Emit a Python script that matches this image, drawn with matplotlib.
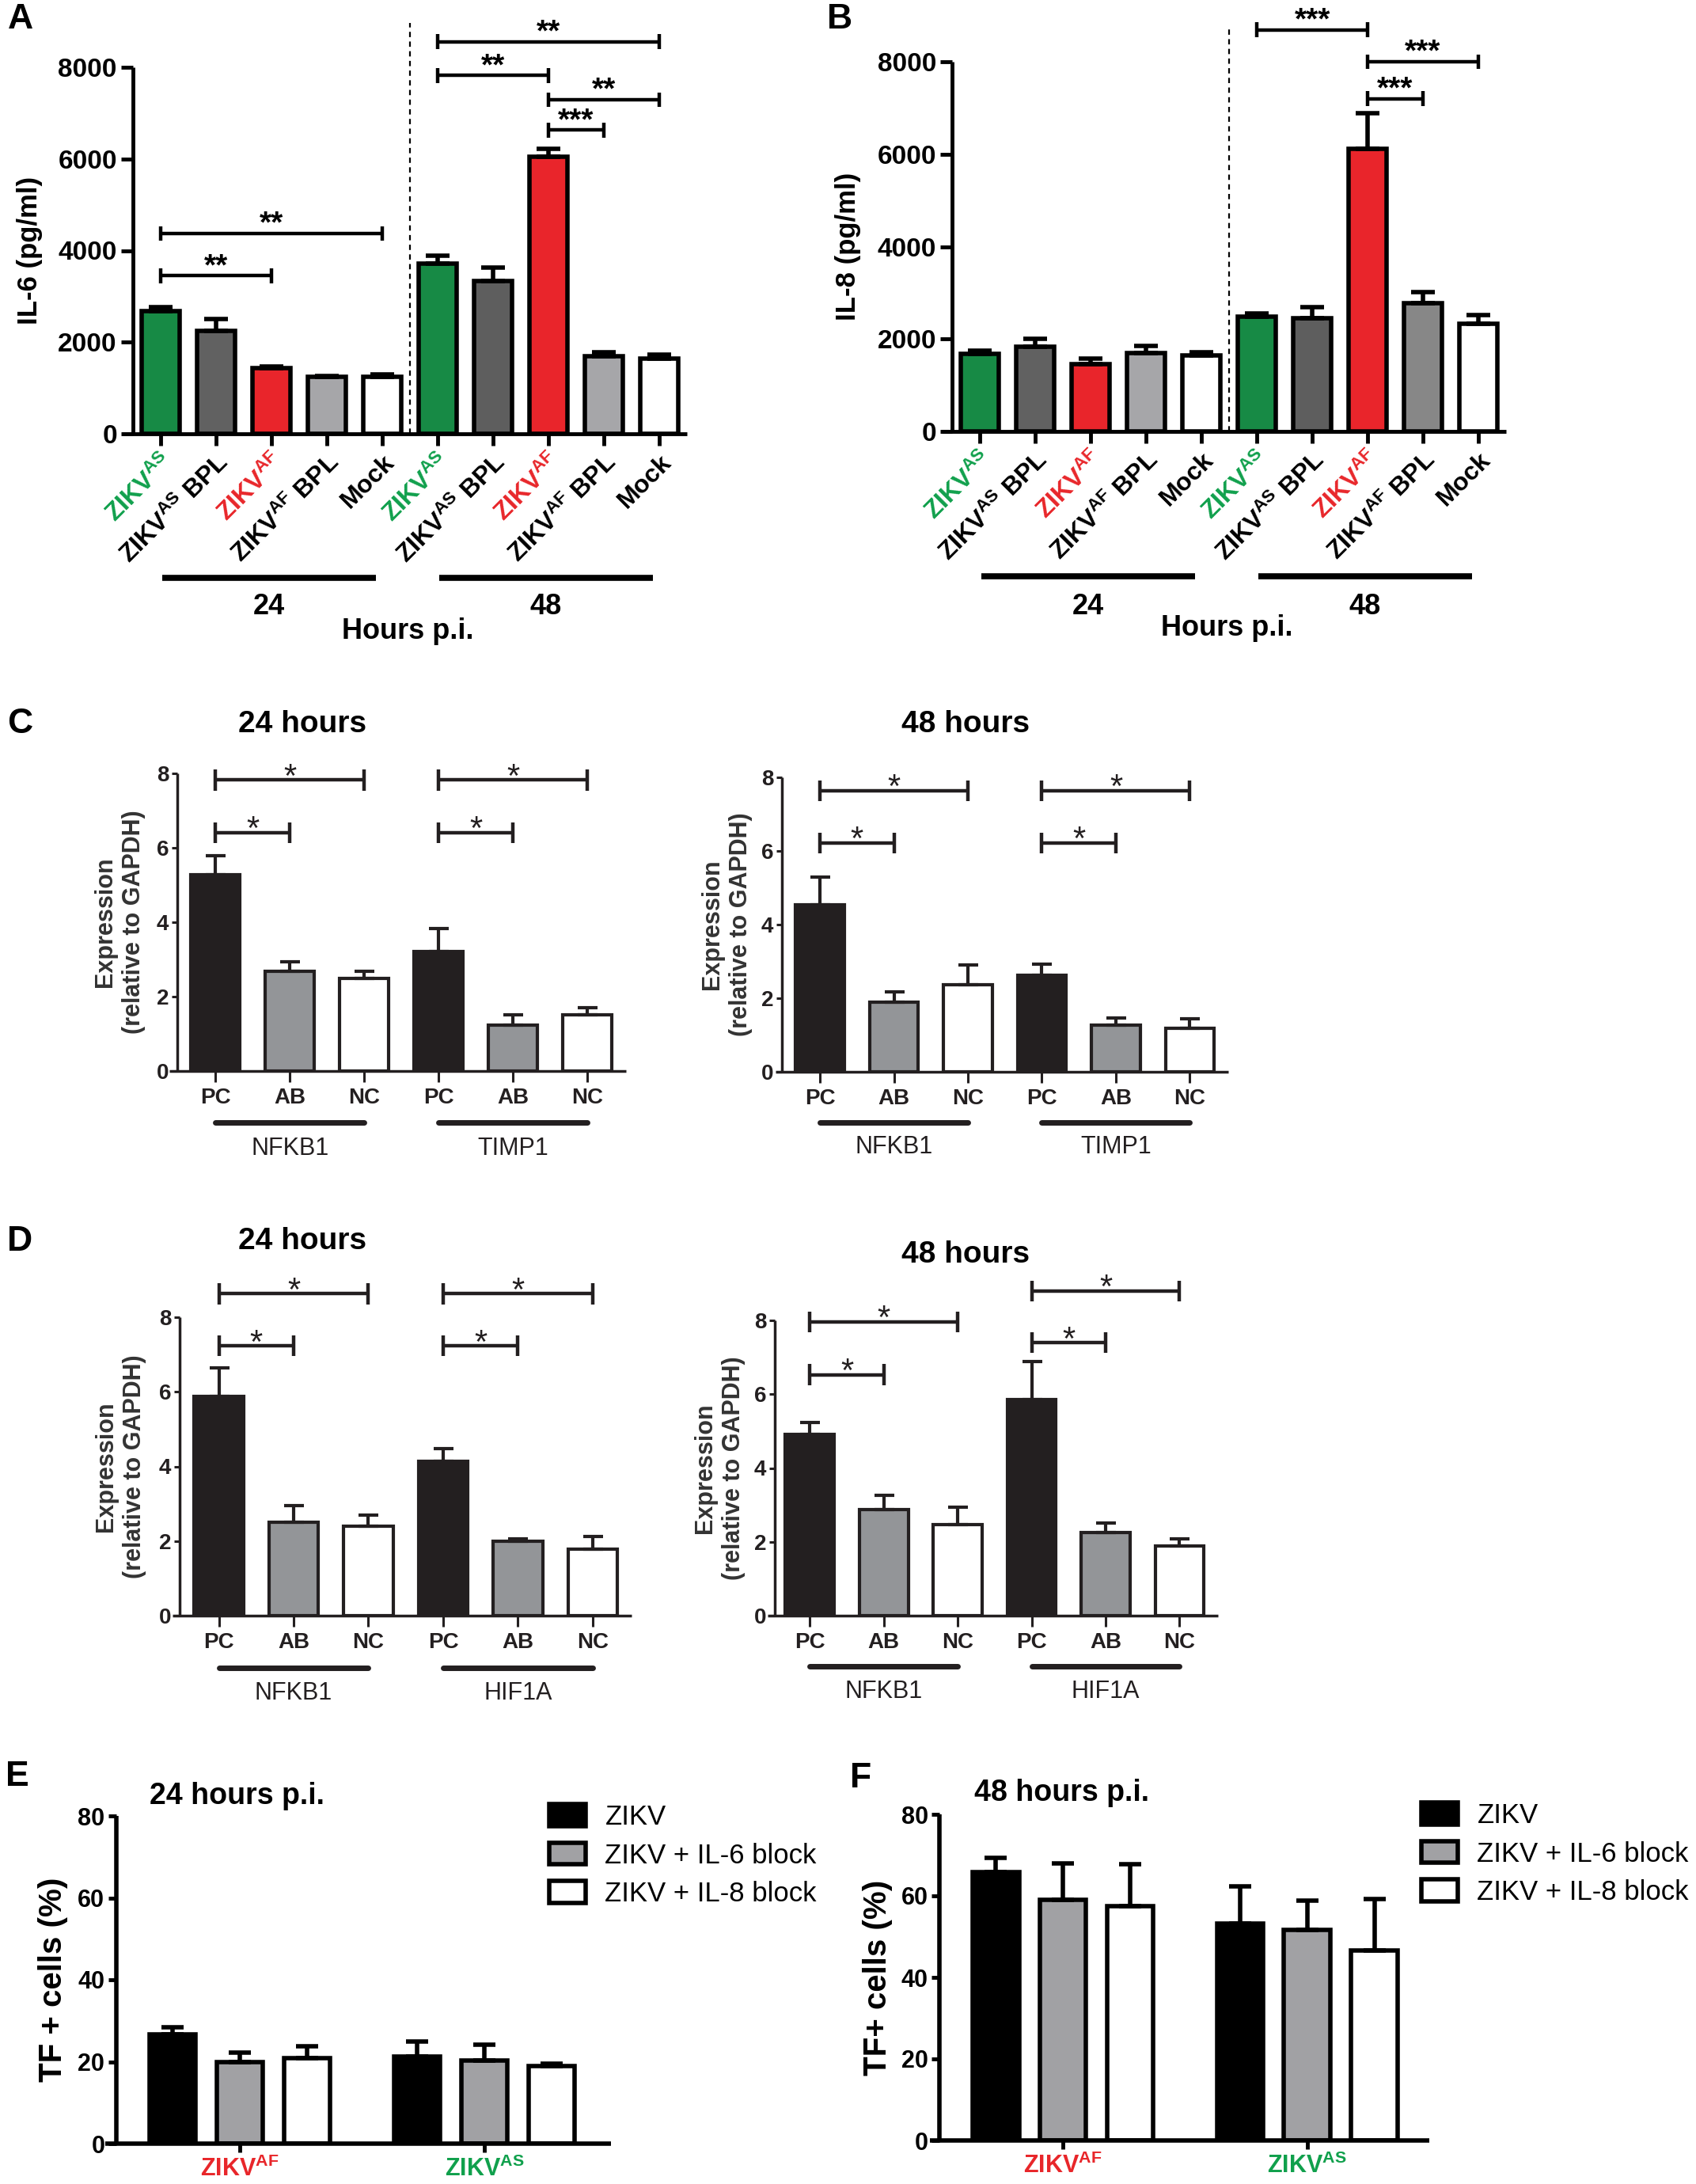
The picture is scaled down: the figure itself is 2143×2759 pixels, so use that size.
import numpy as np
import matplotlib
matplotlib.use("Agg")
import matplotlib.pyplot as plt
import matplotlib.transforms as mtransforms
from matplotlib.patches import Patch

plt.rcParams['font.family'] = ['Liberation Sans', 'DejaVu Sans']
plt.rcParams['mathtext.fontset'] = 'custom'
plt.rcParams['mathtext.rm'] = 'Liberation Sans'
plt.rcParams['mathtext.bf'] = 'Liberation Sans:bold'
plt.rcParams['mathtext.it'] = 'Liberation Sans:italic'

W, H = 2143, 2759

# ── colours ────────────────────────────────────────────────────────────────
GREEN = "#178a45"
RED = "#e9252b"
GREEN_T = "#10a04c"
RED_T = "#e8262a"
DARK = "#231f20"
QGREY = "#939598"

# ── data: panels A/B (cytokines, pg/ml) ────────────────────────────────────
cyto_labels = [r'ZIKV$^{\mathbf{AS}}$', r'ZIKV$^{\mathbf{AS}}$ BPL',
               r'ZIKV$^{\mathbf{AF}}$', r'ZIKV$^{\mathbf{AF}}$ BPL', 'Mock'] * 2
cyto_label_colors = [GREEN_T, 'k', RED_T, 'k', 'k'] * 2
hours = ['24', '48']

il6_mean = [2670, 2240, 1435, 1250, 1250, 3720, 3340, 6040, 1690, 1645]
il6_err = [90, 260, 35, 15, 40, 160, 290, 180, 90, 85]
il8_mean = [1680, 1830, 1450, 1700, 1650, 2480, 2450, 6110, 2770, 2330]
il8_err = [60, 180, 120, 150, 60, 80, 240, 780, 250, 190]

il6_colors = [GREEN, '#616161', RED, '#a6a6a9', 'white',
              GREEN, '#5e5e5e', RED, '#a6a6a9', 'white']
il8_colors = [GREEN, '#616161', RED, '#a6a6a9', 'white',
              GREEN, '#5e5e5e', RED, '#878787', 'white']

# (from bar, to bar, height, stars)
il6_sig = [(0, 2, 3450, '**'), (0, 4, 4370, '**'), (7, 8, 6630, '***'),
           (7, 9, 7290, '**'), (5, 7, 7820, '**'), (5, 9, 8560, '**')]
il8_sig = [(5, 7, 8690, '***'), (7, 9, 8000, '***'), (7, 8, 7200, '***')]

# ── data: panels C/D (expression relative to GAPDH) ────────────────────────
q_conditions = ['PC', 'AB', 'NC']

c24_genes = ['NFKB1', 'TIMP1']
c24_mean = [5.27, 2.69, 2.48, 3.22, 1.23, 1.52]
c24_err = [0.52, 0.25, 0.21, 0.60, 0.28, 0.18]
c48_mean = [4.54, 1.89, 2.36, 2.63, 1.26, 1.19]
c48_err = [0.75, 0.28, 0.55, 0.30, 0.21, 0.26]

d_genes = ['NFKB1', 'HIF1A']
d24_mean = [5.87, 2.51, 2.40, 4.14, 2.00, 1.79]
d24_err = [0.77, 0.45, 0.29, 0.34, 0.06, 0.33]
d48_mean = [4.92, 2.87, 2.46, 5.86, 2.26, 1.89]
d48_err = [0.32, 0.38, 0.48, 1.02, 0.24, 0.20]

c24_sig = [(0, 1, 6.40), (0, 2, 7.82), (3, 4, 6.40), (3, 5, 7.82)]
c48_sig = [(0, 1, 6.22), (0, 2, 7.64), (3, 4, 6.22), (3, 5, 7.64)]
d24_sig = [(0, 1, 7.23), (0, 2, 8.63), (3, 4, 7.23), (3, 5, 8.63)]
d48_sig = [(0, 1, 6.53), (0, 2, 7.96), (3, 4, 7.39), (3, 5, 8.80)]

# ── data: panels E/F (TF+ cells, %) ────────────────────────────────────────
tf_groups = [r'ZIKV$^{\mathbf{AF}}$', r'ZIKV$^{\mathbf{AS}}$']
tf_group_colors = [RED_T, GREEN_T]
tf_series = ['ZIKV', 'ZIKV + IL-6 block', 'ZIKV + IL-8 block']
tf_series_colors = ['black', '#a1a1a4', 'white']

e_mean = [[26.7, 21.2], [20.0, 20.3], [20.8, 18.9]]
e_err = [[1.8, 3.8], [2.2, 3.9], [2.9, 0.6]]
f_mean = [[65.9, 53.2], [59.0, 51.6], [57.4, 46.6]]
f_err = [[3.5, 9.1], [9.0, 7.3], [10.3, 12.7]]

fig = plt.figure(figsize=(W / 100, H / 100), dpi=100, facecolor='white')


def px_axes(box):
    x0, x1, yt, yb = box
    return fig.add_axes([x0 / W, 1 - yb / H, (x1 - x0) / W, (yb - yt) / H])


def ftext(x, y, s, **kw):
    fig.text(x / W, 1 - y / H, s, **kw)


def frac_x(box, px):
    return (px - box[0]) / (box[1] - box[0])


def style(ax, xlim, yspine, ylim, yticks, lw, xtl, ytl, tw, color='k'):
    ax.set_xlim(*xlim)
    ax.set_ylim(*ylim)
    ax.set_yticks(yticks)
    for s in ('top', 'right'):
        ax.spines[s].set_visible(False)
    ax.spines['left'].set_position(('data', yspine))
    for s in ('left', 'bottom'):
        ax.spines[s].set_linewidth(lw)
        ax.spines[s].set_color(color)
        ax.spines[s].set_capstyle('butt')
    ax.tick_params(axis='x', length=xtl, width=tw, color=color)
    ax.tick_params(axis='y', length=ytl, width=tw, color=color)
    ax.set_facecolor('none')


def bracket(ax, x0, x1, y, txt, half, lw, fs, weight, off, color='k'):
    kw = dict(color=color, lw=lw, clip_on=False, solid_capstyle='butt', zorder=4)
    ax.plot([x0, x1], [y, y], **kw)
    ax.plot([x0, x0], [y - half, y + half], **kw)
    ax.plot([x1, x1], [y - half, y + half], **kw)
    ax.annotate(txt, ((x0 + x1) / 2, y), xytext=(0, off), textcoords='offset points',
                ha='center', va='center', fontsize=fs, fontweight=weight,
                color=color, annotation_clip=False)


# ── A / B ──────────────────────────────────────────────────────────────────
def cytokine_panel(box, xlim, means, errs, colors, sig, ylabel, ylabel_px,
                   vtop_px, line_y, hour_y, hpi_y):
    ax = px_axes(box)
    x = np.arange(len(means))
    ax.bar(x, means, width=0.68, color=colors, edgecolor='k', linewidth=4, zorder=2)
    ax.errorbar(x, means, yerr=[np.zeros(len(x)), errs], fmt='none', ecolor='k',
                elinewidth=4, capsize=11, capthick=4, zorder=3)
    style(ax, xlim, -0.5, (0, 8000), [0, 2000, 4000, 6000, 8000], 3.5, 11, 11, 3.5)
    ax.set_yticklabels(['0', '2000', '4000', '6000', '8000'], fontsize=24, fontweight='bold')
    ax.set_xticks(x)
    ax.set_xticklabels(cyto_labels, rotation=45, ha='right', va='top',
                       rotation_mode='anchor', fontsize=23, fontweight='bold')
    for t, c in zip(ax.get_xticklabels(), cyto_label_colors):
        t.set_color(c)
    ax.tick_params(axis='x', pad=4)
    ax.text(frac_x(box, ylabel_px), 0.5, ylabel, transform=ax.transAxes, rotation=90,
            ha='center', va='center', fontsize=25, fontweight='bold')

    tr = mtransforms.blended_transform_factory(ax.transData, fig.transFigure)
    tr_ax = mtransforms.blended_transform_factory(ax.transData, ax.transAxes)
    ax.plot([4.5, 4.5], [0, (box[3] - vtop_px) / (box[3] - box[2])], transform=tr_ax,
            color='k', lw=1.6, ls=(0, (3, 2.5)), clip_on=False, zorder=1)

    for g, (i0, i1) in enumerate([(0, 4), (5, 9)]):
        xa, xb = i0 + 0.03, i1 - 0.12
        ax.plot([xa, xb], [1 - line_y / H] * 2, transform=tr, color='k', lw=5.5,
                solid_capstyle='butt', clip_on=False)
        ax.text((xa + xb) / 2, 1 - hour_y / H, hours[g], transform=tr, ha='center',
                va='center', fontsize=26, fontweight='bold')
    ax.text(4.46, 1 - hpi_y / H, 'Hours p.i.', transform=tr, ha='center', va='center',
            fontsize=26, fontweight='bold')

    for a, b, y, s in sig:
        bracket(ax, a, b, y, s, 160, 3.2, 28, 'bold', 8)
    return ax


box_a = (154, 868, 85, 548)
cytokine_panel(box_a, (-0.7, 9.5), il6_mean, il6_err, il6_colors, il6_sig,
               'IL-6 (pg/ml)', 38, 29, 730, 767, 797)
ftext(26, 24, 'A', fontsize=32, fontweight='bold', ha='center', va='center')

box_b = (1190, 1903, 78, 545)
cytokine_panel(box_b, (-0.69, 9.5), il8_mean, il8_err, il8_colors, il8_sig,
               'IL-8 (pg/ml)', 1072, 37, 728, 767, 794)
ftext(1061, 24, 'B', fontsize=32, fontweight='bold', ha='center', va='center')


# ── C / D ──────────────────────────────────────────────────────────────────
def qpcr_panel(box, xlim, yspine, means, errs, genes, sig, title, title_xy,
               line_y, gene_y, ylabel_px):
    ax = px_axes(box)
    x = np.arange(len(means))
    colors = [DARK, QGREY, 'white'] * 2
    ax.bar(x, means, width=0.66, color=colors, edgecolor=DARK, linewidth=3, zorder=2)
    ax.errorbar(x, means, yerr=[np.zeros(len(x)), errs], fmt='none', ecolor=DARK,
                elinewidth=3, capsize=9, capthick=3, zorder=3)
    style(ax, xlim, yspine, (0, 8), [0, 2, 4, 6, 8], 2.5, 10, 5, 2.2, DARK)
    ax.set_yticklabels(['0', '2', '4', '6', '8'], fontsize=20, fontweight='bold', color=DARK)
    ax.set_xticks(x)
    ax.set_xticklabels(q_conditions * 2, fontsize=20, fontweight='bold', color=DARK)
    ax.tick_params(axis='x', pad=5)
    ax.tick_params(axis='y', pad=3)
    ax.text(frac_x(box, ylabel_px), 0.5, 'Expression\n(relative to GAPDH)',
            transform=ax.transAxes, rotation=90, ha='center', va='center',
            fontsize=22, fontweight='bold', color='#333333', linespacing=1.3)
    tr = mtransforms.blended_transform_factory(ax.transData, fig.transFigure)
    for g, gene in enumerate(genes):
        i0, i1 = 3 * g, 3 * g + 2
        ax.plot([i0, i1], [1 - line_y / H] * 2, transform=tr, color=DARK, lw=5,
                solid_capstyle='round', clip_on=False)
        ax.text((i0 + i1) / 2, 1 - gene_y / H, gene, transform=tr, ha='center',
                va='center', fontsize=22, color=DARK)
    for a, b, y in sig:
        bracket(ax, a, b, y, '*', 0.28, 3.2, 30, 'normal', 2, DARK)
    ftext(title_xy[0], title_xy[1], title, fontsize=28, fontweight='bold',
          ha='center', va='center')
    return ax


qpcr_panel((214, 791, 977, 1353), (-0.62, 5.52), -0.51, c24_mean, c24_err, c24_genes,
           c24_sig, '24 hours', (382, 915), 1418, 1451, 151)
qpcr_panel((980, 1552, 982, 1354), (-0.6, 5.52), -0.51, c48_mean, c48_err, c24_genes,
           c48_sig, '48 hours', (1220, 915), 1418, 1449, 918)
ftext(25, 915, 'C', fontsize=32, fontweight='bold', ha='center', va='center')

qpcr_panel((218, 798, 1664, 2041), (-0.62, 5.52), -0.52, d24_mean, d24_err, d_genes,
           d24_sig, '24 hours', (382, 1568), 2107, 2139, 152)
qpcr_panel((970, 1539, 1668, 2041), (-0.57, 5.52), -0.47, d48_mean, d48_err, d_genes,
           d48_sig, '48 hours', (1220, 1585), 2105, 2137, 909)
ftext(25, 1568, 'D', fontsize=32, fontweight='bold', ha='center', va='center')


# ── E / F ──────────────────────────────────────────────────────────────────
def tf_panel(box, xlim, means, errs, title, title_xy, ylabel, ylabel_px, legend_xy):
    ax = px_axes(box)
    groups = np.arange(len(tf_groups))
    offsets = [-0.275, 0.0, 0.275]
    handles = []
    for k in range(len(tf_series)):
        ax.bar(groups + offsets[k], means[k], width=0.19, color=tf_series_colors[k],
               edgecolor='k', linewidth=4, zorder=2)
        ax.errorbar(groups + offsets[k], means[k], yerr=[np.zeros(len(groups)), errs[k]],
                    fmt='none', ecolor='k', elinewidth=4, capsize=10, capthick=4, zorder=3)
        handles.append(Patch(facecolor=tf_series_colors[k], edgecolor='k', linewidth=4))
    style(ax, xlim, -0.505, (0, 80), [0, 20, 40, 60, 80], 4, 8, 7, 3.5)
    ax.set_yticklabels(['0', '20', '40', '60', '80'], fontsize=22, fontweight='bold')
    ax.set_xticks(groups)
    ax.set_xticklabels(tf_groups, fontsize=22, fontweight='bold')
    for t, c in zip(ax.get_xticklabels(), tf_group_colors):
        t.set_color(c)
    ax.tick_params(axis='x', pad=4)
    ax.text(frac_x(box, ylabel_px), 0.5, ylabel, transform=ax.transAxes, rotation=90,
            ha='center', va='center', fontsize=29, fontweight='bold')
    ftext(title_xy[0], title_xy[1], title, fontsize=27, fontweight='bold',
          ha='left', va='center')
    ax.legend(handles, tf_series, loc='upper left',
              bbox_to_anchor=(legend_xy[0] / W, 1 - legend_xy[1] / H),
              bbox_transform=fig.transFigure, frameon=False, fontsize=25,
              handlelength=1.33, handleheight=0.85, handletextpad=0.7,
              labelspacing=0.45, borderpad=0, borderaxespad=0)
    return ax


tf_panel((133, 772, 2294, 2708), (-0.55, 1.518), e_mean, e_err, '24 hours p.i.',
         (189, 2269), 'TF + cells (%)', 67, (694, 2279))
ftext(22, 2245, 'E', fontsize=32, fontweight='bold', ha='center', va='center')

tf_panel((1175, 1806, 2292, 2704), (-0.545, 1.50), f_mean, f_err, '48 hours p.i.',
         (1231, 2265), 'TF+ cells (%)', 1109, (1796, 2277))
ftext(1088, 2246, 'F', fontsize=32, fontweight='bold', ha='center', va='center')

fig.savefig('out.png', dpi=100, facecolor='white')
